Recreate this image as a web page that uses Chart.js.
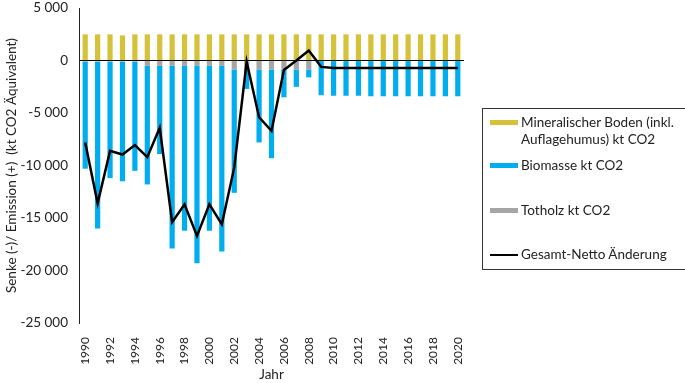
<!DOCTYPE html>
<html>
<head>
<meta charset="utf-8">
<script src="https://cdn.jsdelivr.net/npm/chart.js@4/dist/chart.umd.min.js"></script>
<style>
  body { margin: 0; background: #fff; font-family: Lato, "Open Sans", sans-serif; }
  #wrap { position: relative; width: 685px; height: 383px; overflow: hidden; }
  #leinwand { position: absolute; left: 0; top: -11px; width: 685px; height: 394px; }
  #legende {
    position: absolute; left: 482px; top: 108px; width: 215px; height: 162px;
    border: 1px solid #333; box-sizing: border-box; font-size: 13.5px; color: #222;
  }
  .item { position: absolute; left: 7px; display: flex; align-items: flex-start; }
  .sw { width: 28px; flex: none; margin-right: 3px; }
  .txt { line-height: 17px; }
</style>
</head>
<body>
<div id="wrap">
  <div id="leinwand"><canvas id="senkeChart"></canvas></div>
  <div id="legende">
    <div class="item" style="top:5px"><div class="sw" style="height:5px;background:#d6c23a;margin-top:6px"></div><div class="txt">Mineralischer Boden (inkl.<br>Auflagehumus) kt CO2</div></div>
    <div class="item" style="top:48px"><div class="sw" style="height:5px;background:#00aeef;margin-top:6px"></div><div class="txt">Biomasse kt CO2</div></div>
    <div class="item" style="top:93px"><div class="sw" style="height:5px;background:#a6a6a6;margin-top:6px"></div><div class="txt">Totholz kt CO2</div></div>
    <div class="item" style="top:137px"><div class="sw" style="height:2px;background:#000;margin-top:8px"></div><div class="txt">Gesamt-Netto Änderung</div></div>
  </div>
</div>
<script>
// Jahre 1990-2020
const jahre = [];
for (let j = 1990; j <= 2020; j++) jahre.push(String(j));

const mineralBoden = [2500, 2500, 2500, 2400, 2500, 2500, 2500, 2500, 2500, 2500, 2500,
  2500, 2500, 2500, 2500, 2500, 2500, 2500, 2500, 2500, 2500,
  2500, 2500, 2500, 2500, 2500, 2500, 2500, 2500, 2500, 2500];

const biomasse = [-10200, -15900, -11100, -11400, -10400, -11300, -8400, -17400, -15700, -18800, -15700,
  -17700, -11750, -1850, -6950, -8450, -2650, -1650, -750, -3250, -3300,
  -3300, -3300, -3350, -3350, -3350, -3350, -3350, -3350, -3350, -3350];

const totholz = [-100, -100, -100, -100, -100, -500, -500, -500, -500, -500, -500,
  -500, -850, -850, -850, -850, -850, -850, -850, -50, -50,
  -50, -50, -50, -50, -50, -50, -50, -50, -50, -50];

const gesamtNetto = [-7800, -13600, -8600, -8950, -8050, -9200, -6400, -15400, -13700, -16700, -13700,
  -15600, -10200, -100, -5400, -6700, -900, 0, 950, -600, -700,
  -700, -700, -700, -700, -700, -700, -700, -700, -700, -700];

const yTicks = [5000, 0, -5000, -10000, -15000, -20000, -25000];

function tausender(v) {
  const s = Math.abs(v).toString().replace(/\B(?=(\d{3})+(?!\d))/g, ' ');
  return (v < 0 ? '-' : '') + s;
}

const schrift = { family: 'Lato, "Open Sans", sans-serif', size: 13.5 };
const schriftX = { family: 'Lato, "Open Sans", sans-serif', size: 12 };
Chart.defaults.color = '#222';

const ctx = document.getElementById('senkeChart').getContext('2d');
new Chart(ctx, {
  type: 'bar',
  data: {
    labels: jahre,
    datasets: [
      {
        type: 'line',
        label: 'Gesamt-Netto Änderung',
        data: gesamtNetto,
        borderColor: '#000',
        borderWidth: 2.5,
        pointRadius: 0,
        tension: 0,
        stack: 'netto',
        order: 0
      },
      {
        label: 'Mineralischer Boden (inkl. Auflagehumus) kt CO2',
        data: mineralBoden,
        backgroundColor: '#d6c23a',
        stack: 'bilanz',
        order: 1
      },
      {
        label: 'Totholz kt CO2',
        data: totholz,
        backgroundColor: '#a6a6a6',
        stack: 'bilanz',
        order: 2
      },
      {
        label: 'Biomasse kt CO2',
        data: biomasse,
        backgroundColor: '#00aeef',
        stack: 'bilanz',
        order: 3
      }
    ]
  },
  options: {
    responsive: true,
    maintainAspectRatio: false,
    animation: false,
    layout: { autoPadding: false, padding: { top: 0, right: 221, bottom: 0, left: 0 } },
    datasets: { bar: { categoryPercentage: 1, barPercentage: 0.42 } },
    plugins: { legend: { display: false }, tooltip: { enabled: false } },
    scales: {
      x: {
        stacked: true,
        grid: { display: false },
        border: { display: false },
        afterFit: axis => { axis.height = 60; },
        ticks: {
          font: schriftX,
          autoSkip: false,
          maxRotation: 90,
          minRotation: 90,
          padding: 6,
          callback: function (val, i) { return i % 2 === 0 ? jahre[i] : ''; }
        },
        title: { display: true, text: 'Jahr', font: schrift, padding: { top: 0, bottom: 0 } }
      },
      y: {
        stacked: true,
        min: -25000,
        max: 5000,
        afterBuildTicks: function (axis) { axis.ticks = yTicks.map(v => ({ value: v })); },
        afterFit: axis => { axis.width = 79; },
        grid: {
          drawTicks: false,
          color: c => (c.tick && c.tick.value === 0) ? '#000' : 'rgba(0,0,0,0)',
          lineWidth: 1
        },
        border: { display: true, color: '#222', width: 1 },
        ticks: { font: schrift, padding: 11, callback: v => tausender(v) },
        title: {
          display: true,
          text: 'Senke (-)/ Emission (+)  (kt CO2 Äquivalent)',
          font: schrift,
          padding: { top: 4, bottom: 0 }
        }
      }
    }
  }
});
</script>
</body>
</html>
